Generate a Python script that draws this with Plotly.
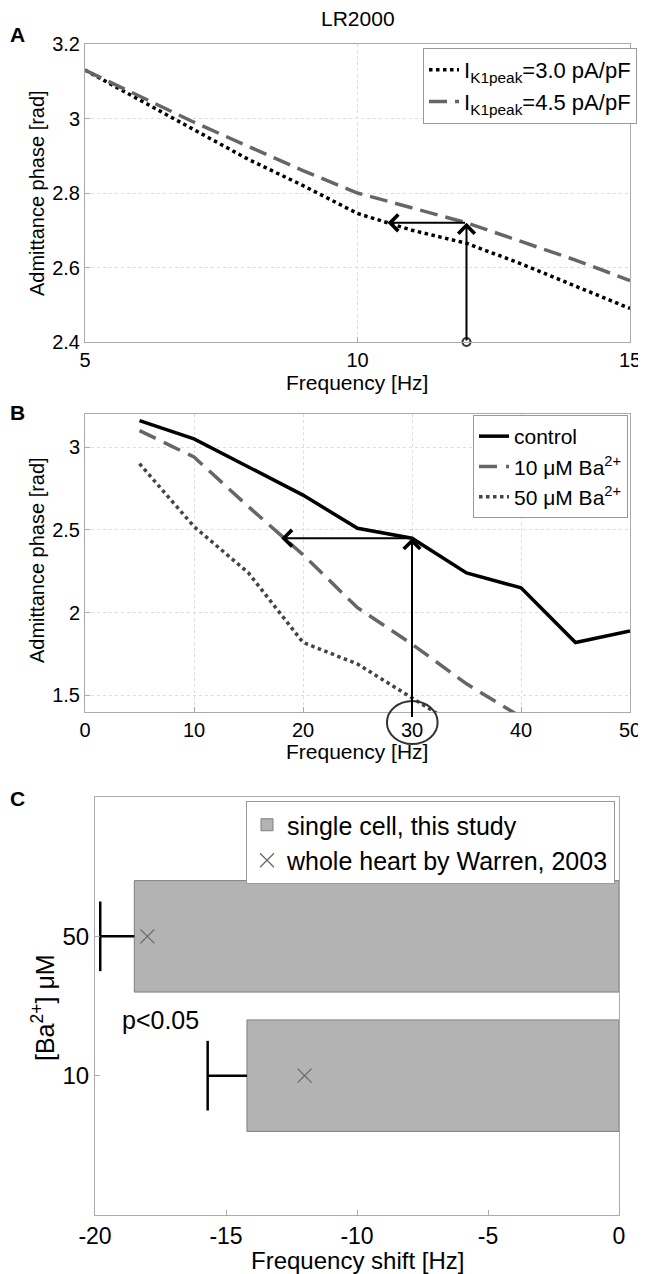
import plotly.graph_objects as go

# page is rendered with the browser's default 8px body margin
OFF = 8
W, H = 646 - OFF, 1274 - OFF
FONT = "Liberation Sans, Arial, sans-serif"

# ---------- Panel A data ----------
freq_a = [5, 6, 7, 8, 9, 10, 11, 12, 13, 14, 15]
phase_a_30 = [3.13, 3.05, 2.97, 2.89, 2.82, 2.745, 2.70, 2.665, 2.61, 2.55, 2.49]
phase_a_45 = [3.13, 3.06, 2.99, 2.925, 2.86, 2.80, 2.76, 2.72, 2.67, 2.62, 2.565]
names_a = ["I<sub>K1peak</sub>=3.0 pA/pF", "I<sub>K1peak</sub>=4.5 pA/pF"]

# ---------- Panel B data ----------
freq_b = [5, 10, 15, 20, 25, 30, 35, 40, 45, 50]
phase_control = [3.16, 3.05, 2.88, 2.71, 2.51, 2.45, 2.24, 2.15, 1.82, 1.89]
phase_ba10 = [3.10, 2.94, 2.64, 2.35, 2.03, 1.81, 1.57, 1.37, None, None]
phase_ba50 = [2.90, 2.52, 2.24, 1.82, 1.69, 1.48, 1.28, None, None, None]
names_b = ["control", "10 μM Ba<sup>2+</sup>", "50 μM Ba<sup>2+</sup>"]

# ---------- Panel C data ----------
conc_labels = ["10", "50"]
conc_pos = [1, 2]
shift_single = [-14.2, -18.5]
shift_err = [1.5, 1.3]
shift_warren = [-12.0, -18.0]
names_c = ["single cell, this study", "whole heart by Warren, 2003"]
shift_ticks = [-20, -15, -10, -5, 0]
shift_ticktext = ["-20", "-15", "-10", "-5", "0"]


def px_x(p):
    return (p - OFF) / W


def px_y(p):
    return 1 - (p - OFF) / H


fig = go.Figure()

# Panel A
fig.add_trace(go.Scatter(x=freq_a, y=phase_a_30, mode="lines", name=names_a[0],
                         line=dict(color="black", width=3.5, dash="dot"),
                         xaxis="x", yaxis="y", legend="legend"))
fig.add_trace(go.Scatter(x=freq_a, y=phase_a_45, mode="lines", name=names_a[1],
                         line=dict(color="#666666", width=3.5, dash="18px,8px"),
                         xaxis="x", yaxis="y", legend="legend"))
fig.add_trace(go.Scatter(x=[12], y=[2.4], mode="markers", showlegend=False,
                         marker=dict(symbol="circle-open", size=8, color="#333",
                                     line=dict(width=2)),
                         cliponaxis=False, xaxis="x", yaxis="y"))

# Panel B
fig.add_trace(go.Scatter(x=freq_b, y=phase_control, mode="lines", name=names_b[0],
                         line=dict(color="black", width=3.5),
                         xaxis="x2", yaxis="y2", legend="legend2"))
fig.add_trace(go.Scatter(x=freq_b, y=phase_ba10, mode="lines", name=names_b[1],
                         line=dict(color="#666666", width=3.5, dash="18px,9px"),
                         xaxis="x2", yaxis="y2", legend="legend2"))
fig.add_trace(go.Scatter(x=freq_b, y=phase_ba50, mode="lines", name=names_b[2],
                         line=dict(color="#444444", width=3.5, dash="dot"),
                         xaxis="x2", yaxis="y2", legend="legend2"))

# Panel C
fig.add_trace(go.Bar(x=shift_single, y=conc_pos, orientation="h", width=0.8,
                     name=names_c[0],
                     marker=dict(color="#b3b3b3", line=dict(color="#7f7f7f", width=1)),
                     xaxis="x3", yaxis="y3", legend="legend3"))
for v, e, c in zip(shift_single, shift_err, conc_pos):
    fig.add_trace(go.Scatter(x=[v, v - e, None, v - e, v - e],
                             y=[c, c, None, c - 0.25, c + 0.25],
                             mode="lines", showlegend=False,
                             line=dict(color="black", width=2.5),
                             xaxis="x3", yaxis="y3"))
fig.add_trace(go.Scatter(x=shift_warren, y=conc_pos, mode="markers", name=names_c[1],
                         marker=dict(symbol="x-thin", size=14, color="#666",
                                     line=dict(width=1.2, color="#666")),
                         xaxis="x3", yaxis="y3", legend="legend3"))


def ax(size, **kw):
    d = dict(showline=True, mirror=True, linecolor="#aaaaaa", linewidth=1,
             ticks="inside", ticklen=5, tickcolor="#aaaaaa",
             zeroline=False, automargin=False, ticklabeloverflow="allow",
             tickfont=dict(size=size, color="black", family=FONT))
    d.update(kw)
    return d


grid = dict(showgrid=True, gridcolor="#dddddd", griddash="dot", gridwidth=1)

fig.update_layout(
    width=W, height=H, margin=dict(l=0, r=0, t=0, b=0),
    paper_bgcolor="white", plot_bgcolor="white",
    font=dict(family=FONT, color="black"),
    xaxis=ax(20, domain=[px_x(85), px_x(630)], range=[5, 15], tickvals=[5, 10, 15],
             anchor="y", **grid),
    yaxis=ax(20, domain=[px_y(342), px_y(44)], range=[2.4, 3.2],
             tickvals=[2.4, 2.6, 2.8, 3.0, 3.2], ticktext=["2.4", "2.6", "2.8", "3", "3.2"],
             anchor="x", **grid),
    xaxis2=ax(20, domain=[px_x(85), px_x(630)], range=[0, 50],
              tickvals=[0, 10, 20, 30, 40, 50], anchor="y2", **grid),
    yaxis2=ax(20, domain=[px_y(712), px_y(414)], range=[1.4, 3.2],
              tickvals=[1.5, 2, 2.5, 3], ticktext=["1.5", "2", "2.5", "3"],
              anchor="x2", **grid),
    xaxis3=ax(23, domain=[px_x(95), px_x(619)], range=[-20, 0], tickvals=shift_ticks,
              ticktext=shift_ticktext, anchor="y3", showgrid=False),
    yaxis3=ax(24, domain=[px_y(1215), px_y(797)], range=[0, 3], tickvals=conc_pos,
              ticktext=conc_labels, anchor="x3", showgrid=False),
    legend=dict(x=px_x(637), y=px_y(48), xanchor="right", yanchor="top",
                bordercolor="#999", borderwidth=1, bgcolor="white",
                font=dict(size=22), itemwidth=30),
    legend2=dict(x=px_x(628), y=px_y(415), xanchor="right", yanchor="top",
                 bordercolor="#999", borderwidth=1, bgcolor="white",
                 font=dict(size=21), itemwidth=30),
    legend3=dict(x=px_x(615), y=px_y(801), xanchor="right", yanchor="top",
                 bordercolor="#999", borderwidth=1, bgcolor="white",
                 font=dict(size=25), itemwidth=30),
)


def label(text, x, y, size, angle=0):
    fig.add_annotation(text=text, x=px_x(x), y=px_y(y), xref="paper", yref="paper",
                       xanchor="center", yanchor="middle", showarrow=False,
                       textangle=angle, font=dict(size=size, family=FONT, color="black"))


# Titles, panel letters, axis titles
label("LR2000", 358, 19, 21)
label("<b>A</b>", 17, 34, 21)
label("<b>B</b>", 17, 412, 21)
label("<b>C</b>", 17, 798, 21)
label("Frequency [Hz]", 357, 382, 21)
label("Admittance phase [rad]", 37, 193, 20, -90)
label("Frequency [Hz]", 357, 751, 21)
label("Admittance phase [rad]", 37, 560, 20, -90)
label("Frequency shift [Hz]", 357, 1260, 24)
label("[Ba<sup>2+</sup>] μM", 43, 1008, 25, -90)

arrow = dict(showarrow=True, arrowhead=4, arrowsize=1.6, arrowwidth=2,
             arrowcolor="black", text="")
# Arrows panel A
fig.add_annotation(x=12, y=2.72, ax=12, ay=2.4, xref="x", yref="y", axref="x", ayref="y", **arrow)
fig.add_annotation(x=10.55, y=2.72, ax=12, ay=2.72, xref="x", yref="y", axref="x", ayref="y", **arrow)

# Arrows panel B
fig.add_annotation(x=30, y=2.45, ax=30, ay=1.36, xref="x2", yref="y2", axref="x2", ayref="y2", **arrow)
fig.add_annotation(x=18, y=2.45, ax=30, ay=2.45, xref="x2", yref="y2", axref="x2", ayref="y2", **arrow)
fig.add_shape(type="circle", xref="x2", yref="paper", x0=27.7, x1=32.35,
              y0=px_y(744), y1=px_y(701), line=dict(color="#333", width=2))

# p-value text panel C
fig.add_annotation(text="p<0.05", x=-17.5, y=1.40, xref="x3", yref="y3", showarrow=False,
                   font=dict(size=25, family=FONT))

fig.write_html("out.html")
